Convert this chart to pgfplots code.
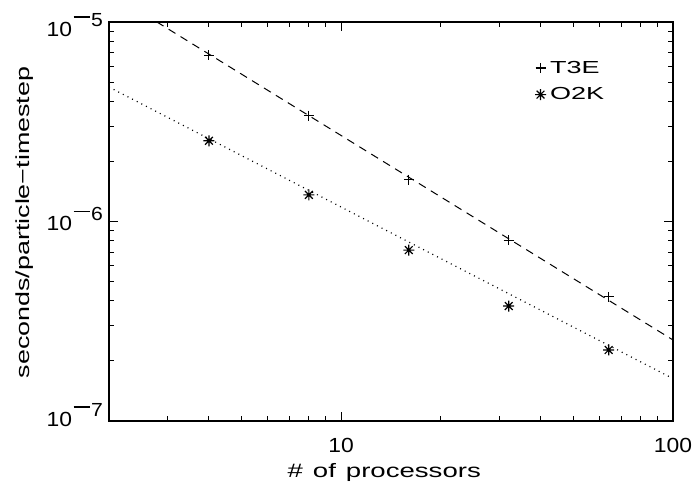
\documentclass[border=0pt]{standalone}
\usepackage{pgfplots}
\pgfplotsset{compat=1.18}
\usepackage{fontspec}
\setmainfont{Liberation Sans}
\newfontfamily\labfont[FakeStretch=1.42]{Liberation Sans}
\newfontfamily\tickfont[FakeStretch=1.12]{Liberation Sans}
\newfontfamily\legfont[FakeStretch=1.55]{Liberation Sans}

% asterisk made of four strokes (+ and x combined)
\pgfdeclareplotmark{star8}{%
  \pgfpathmoveto{\pgfqpoint{-\pgfplotmarksize}{0pt}}%
  \pgfpathlineto{\pgfqpoint{\pgfplotmarksize}{0pt}}%
  \pgfpathmoveto{\pgfqpoint{0pt}{-\pgfplotmarksize}}%
  \pgfpathlineto{\pgfqpoint{0pt}{\pgfplotmarksize}}%
  \pgfpathmoveto{\pgfqpoint{-0.707\pgfplotmarksize}{-0.707\pgfplotmarksize}}%
  \pgfpathlineto{\pgfqpoint{0.707\pgfplotmarksize}{0.707\pgfplotmarksize}}%
  \pgfpathmoveto{\pgfqpoint{-0.707\pgfplotmarksize}{0.707\pgfplotmarksize}}%
  \pgfpathlineto{\pgfqpoint{0.707\pgfplotmarksize}{-0.707\pgfplotmarksize}}%
  \pgfusepathqstroke}

% power-of-ten tick label: exponent digit, vertical offset of the label
\newcommand\pw[2]{\raisebox{#2}{10\kern1.5bp\raisebox{10bp}{\fontsize{19}{19}\selectfont\rule[8.5bp]{16bp}{1.4bp}\kern1.5bp#1}}}

\begin{document}
\begin{tikzpicture}
\path[use as bounding box] (-109bp,-64bp) rectangle (584bp,421bp);
\begin{axis}[
  xmode=log, ymode=log,
  scale only axis, width=564bp, height=399bp,
  xmin=2, xmax=100, ymin=1e-7, ymax=1e-5,
  xtick={10,100}, xticklabels={10,100},
  minor xtick={2,3,4,5,6,7,8,9,20,30,40,50,60,70,80,90},
  ytick={1e-7,1e-6,1e-5},
  yticklabels={\pw{7}{-5bp},\pw{6}{-9bp},\pw{5}{-14bp}},
  minor ytick={2e-7,3e-7,4e-7,5e-7,6e-7,7e-7,8e-7,9e-7,2e-6,3e-6,4e-6,5e-6,6e-6,7e-6,8e-6,9e-6},
  tick align=inside,
  major tick length=9bp, minor tick length=5bp,
  tick style={line width=1bp, black},
  axis line style={line width=1.6bp},
  ticklabel style={font=\tickfont\fontsize{20.5}{20.5}\selectfont},
  xticklabel style={anchor=base, inner sep=0pt, yshift=-31bp},
  yticklabel style={anchor=base east, inner sep=0pt, xshift=-6bp},
  xlabel={\#\hspace{10bp}of\hspace{10bp}processors},
  xlabel style={at={(axis description cs:0.488,-0.1404)}, anchor=base, inner sep=0pt,
                font=\labfont\fontsize{19.5}{19.5}\selectfont},
  ylabel={seconds/particle−timestep},
  ylabel style={at={(axis description cs:-0.1401,0.4975)}, anchor=base, inner sep=0pt,
                font=\labfont\fontsize{19}{19}\selectfont},
  legend style={at={(0.755,0.905)}, anchor=north west, draw=none, fill=none,
                inner sep=0pt, row sep=11bp, column sep=3bp,
                font=\legfont\fontsize{17.5}{17.5}\selectfont,
                nodes={inner sep=1bp}},
  legend cell align=left,
  legend image code/.code={\draw[#1] plot coordinates {(0bp,0bp)};},
]
% power-law fits
\addplot[forget plot, black, line width=1bp, dash pattern=on 8bp off 6bp]
  coordinates {(2,1.406e-5) (100,2.548e-7)};
\addplot[forget plot, black, line width=1.2bp, dash pattern=on 1bp off 4.2bp]
  coordinates {(2,4.72e-6) (100,1.632e-7)};
% measured timings
\addplot[only marks, black, mark=+, mark size=5bp, line width=1.1bp]
  coordinates {(4,6.83e-6) (8,3.39e-6) (16,1.62e-6) (32,8.07e-7) (64,4.19e-7)};
\addlegendentry{T3E}
\addplot[only marks, black, mark=star8, mark size=5.5bp, line width=1.2bp]
  coordinates {(4,2.54e-6) (8,1.36e-6) (16,7.19e-7) (32,3.77e-7) (64,2.27e-7)};
\addlegendentry{O2K}
\end{axis}
\end{tikzpicture}
\end{document}
